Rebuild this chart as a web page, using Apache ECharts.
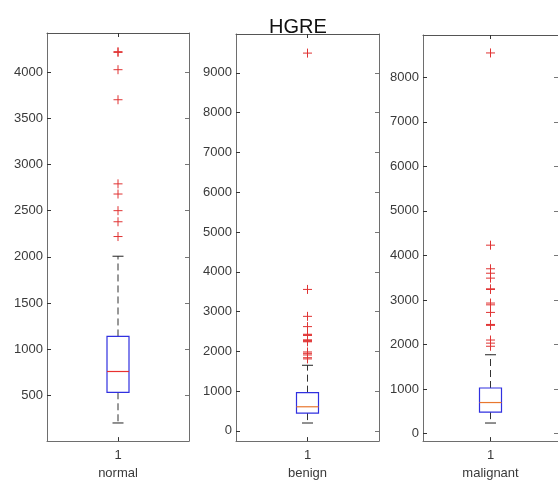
<!DOCTYPE html>
<html>
<head>
<meta charset="utf-8">
<script src="https://cdn.jsdelivr.net/npm/echarts@6/dist/echarts.min.js"></script>
<style>
html,body{margin:0;padding:0;background:#fff;}
#chart{width:558px;height:485px;}
</style>
</head>
<body>
<div id="chart"></div>
<script>
// ---- data ----
const titleText = 'HGRE';
const groupNames = ['normal', 'benign', 'malignant'];
const xTickLabels = ['1'];
// [lower whisker, Q1, median, Q3, upper whisker]
const normalStats = [203, 535, 760, 1139, 2007];
const benignStats = [199, 448, 607, 962, 1650];
const malignantStats = [236, 480, 696, 1022, 1769];
const normalOutliers = [4220, 4212, 4025, 3700, 2790, 2680, 2500, 2380, 2220];
const benignOutliers = [9498, 3557, 2880, 2622, 2430, 2415, 2400, 2290, 2270, 2255, 2240, 1985, 1950, 1910, 1840, 1810];
const malignantOutliers = [8547, 4230, 3700, 3600, 3490, 3250, 3235, 2930, 2890, 2720, 2450, 2440, 2430, 2100, 2030, 1960];
const normalTicks = [500, 1000, 1500, 2000, 2500, 3000, 3500, 4000];
const benignTicks = [0, 1000, 2000, 3000, 4000, 5000, 6000, 7000, 8000, 9000];
const malignantTicks = [0, 1000, 2000, 3000, 4000, 5000, 6000, 7000, 8000];
const yLimits = [[7, 4422], [-256, 9978], [-170, 8950]];

const statsList = [normalStats, benignStats, malignantStats];
const outlierList = [normalOutliers, benignOutliers, malignantOutliers];
const tickList = [normalTicks, benignTicks, malignantTicks];

const grids = [
  {left: 47, top: 33, width: 142, height: 412},
  {left: 236, top: 34, width: 143, height: 411},
  {left: 423, top: 35, width: 143, height: 410}
];
const medianColors = ['#e8312f', '#e8772e', '#e8772e'];
const FONT = 'Liberation Sans, Arial, Helvetica, sans-serif';
const axisColor = '#6e6e6e';
const labelColor = '#3a3a3a';

const xAxes = [], yAxes = [], series = [];
grids.forEach((g, i) => {
  // bottom x axis
  xAxes.push({
    gridIndex: i, type: 'category', data: xTickLabels, position: 'bottom',
    boundaryGap: true,
    axisLine: {show: true, onZero: false, lineStyle: {color: axisColor, width: 1}},
    axisTick: {show: true, inside: true, length: 4, alignWithLabel: true, lineStyle: {color: '#333'}},
    axisLabel: {color: labelColor, fontSize: 13, fontFamily: FONT, margin: 8},
    name: groupNames[i], nameLocation: 'middle', nameGap: 25,
    nameTextStyle: {color: labelColor, fontSize: 13, fontFamily: FONT}
  });
  // top mirror
  xAxes.push({
    gridIndex: i, type: 'category', data: xTickLabels, position: 'top',
    boundaryGap: true,
    axisLine: {show: true, onZero: false, lineStyle: {color: '#555', width: 1}},
    axisTick: {show: true, inside: true, length: 4, alignWithLabel: true, lineStyle: {color: '#333'}},
    axisLabel: {show: false}
  });
  yAxes.push({
    gridIndex: i, type: 'value', position: 'left',
    min: yLimits[i][0], max: yLimits[i][1],
    axisLine: {show: true, onZero: false, lineStyle: {color: axisColor, width: 1}},
    axisTick: {show: true, inside: true, length: 4, customValues: tickList[i], lineStyle: {color: '#333'}},
    axisLabel: {color: labelColor, fontSize: 13, fontFamily: FONT, margin: 4, customValues: tickList[i],
      formatter: v => String(Math.round(v))},
    splitLine: {show: false}
  });
  yAxes.push({
    gridIndex: i, type: 'value', position: 'right',
    min: yLimits[i][0], max: yLimits[i][1],
    axisLine: {show: true, onZero: false, lineStyle: {color: axisColor, width: 1}},
    axisTick: {show: true, inside: true, length: 4, customValues: tickList[i], lineStyle: {color: '#777'}},
    axisLabel: {show: false},
    splitLine: {show: false}
  });

  const st = statsList[i];
  series.push({
    type: 'custom', xAxisIndex: 2 * i, yAxisIndex: 2 * i,
    data: [[0, st[0], st[1], st[2], st[3], st[4]]],
    encode: {x: 0, y: [1, 2, 3, 4, 5]},
    clip: false,
    renderItem: function (params, api) {
      const xi = api.value(0);
      const pLow = api.coord([xi, api.value(1)]);
      const pQ1 = api.coord([xi, api.value(2)]);
      const pMed = api.coord([xi, api.value(3)]);
      const pQ3 = api.coord([xi, api.value(4)]);
      const pUp = api.coord([xi, api.value(5)]);
      const cx = pQ1[0];
      const bw = 22, cw = 11;
      return {
        type: 'group',
        children: [
          {type: 'line', shape: {x1: cx, y1: pQ3[1], x2: cx, y2: pUp[1]},
            style: {stroke: '#333', lineWidth: 1, lineDash: [7, 4]}},
          {type: 'line', shape: {x1: cx, y1: pQ1[1], x2: cx, y2: pLow[1]},
            style: {stroke: '#333', lineWidth: 1, lineDash: [7, 4]}},
          {type: 'line', shape: {x1: cx - cw / 2, y1: pUp[1], x2: cx + cw / 2, y2: pUp[1]},
            style: {stroke: '#222', lineWidth: 1}},
          {type: 'line', shape: {x1: cx - cw / 2, y1: pLow[1], x2: cx + cw / 2, y2: pLow[1]},
            style: {stroke: '#222', lineWidth: 1}},
          {type: 'rect', shape: {x: cx - bw / 2, y: pQ3[1], width: bw, height: pQ1[1] - pQ3[1]},
            style: {fill: 'none', stroke: '#3030e0', lineWidth: 1.2}},
          {type: 'line', shape: {x1: cx - bw / 2, y1: pMed[1], x2: cx + bw / 2, y2: pMed[1]},
            style: {stroke: medianColors[i], lineWidth: 1.2}}
        ]
      };
    }
  });
  series.push({
    type: 'custom', xAxisIndex: 2 * i, yAxisIndex: 2 * i,
    data: outlierList[i].map(v => [0, v]),
    encode: {x: 0, y: 1},
    clip: false,
    renderItem: function (params, api) {
      const p = api.coord([api.value(0), api.value(1)]);
      const h = 4.5;
      return {
        type: 'group',
        children: [
          {type: 'line', shape: {x1: p[0] - h, y1: p[1], x2: p[0] + h, y2: p[1]},
            style: {stroke: '#e03333', lineWidth: 1}},
          {type: 'line', shape: {x1: p[0], y1: p[1] - h, x2: p[0], y2: p[1] + h},
            style: {stroke: '#e03333', lineWidth: 1}}
        ]
      };
    }
  });
});

const chart = echarts.init(document.getElementById('chart'), null, {renderer: 'canvas'});
chart.setOption({
  animation: false,
  backgroundColor: '#ffffff',
  title: {text: titleText, left: 264, top: 12,
    textStyle: {fontSize: 20, fontWeight: 'normal', color: '#111', fontFamily: FONT}},
  grid: grids.map(g => Object.assign({containLabel: false}, g)),
  xAxis: xAxes,
  yAxis: yAxes,
  series: series
});
</script>
</body>
</html>
